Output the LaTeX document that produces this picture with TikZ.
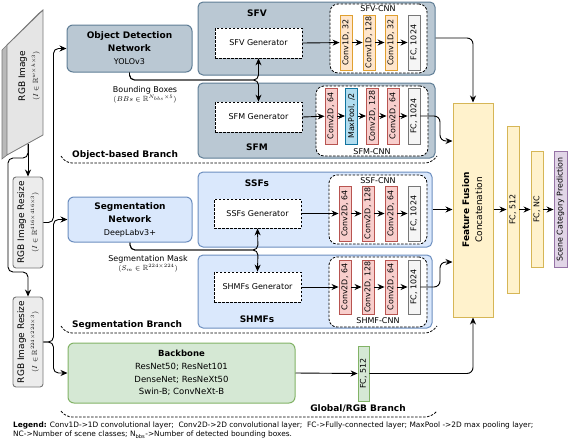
\documentclass[tikz,border=0pt]{standalone}
\usepackage{fontspec}
\usepackage{amssymb}
\usepackage{graphicx}
\setmainfont{DejaVu Sans}
\usetikzlibrary{arrows.meta,calc}
\definecolor{pgfill}{HTML}{BAC8D3}
\definecolor{pgdraw}{HTML}{5F7D95}
\definecolor{lbfill}{HTML}{DAE8FC}
\definecolor{lbdraw}{HTML}{6C8EBF}
\definecolor{grfill}{HTML}{D5E8D4}
\definecolor{grdraw}{HTML}{82B366}
\definecolor{yefill}{HTML}{FFF2CC}
\definecolor{yedraw}{HTML}{D6B656}
\definecolor{orfill}{HTML}{FFE6CC}
\definecolor{ordraw}{HTML}{E0A030}
\definecolor{rdfill}{HTML}{F8CECC}
\definecolor{rddraw}{HTML}{B85450}
\definecolor{blfill}{HTML}{B1DDF0}
\definecolor{bldraw}{HTML}{10739E}
\definecolor{gyfill}{HTML}{F5F5F5}
\definecolor{gydraw}{HTML}{777777}
\definecolor{pufill}{HTML}{E1D5E7}
\definecolor{pudraw}{HTML}{9673A6}
\newcommand{\vtxt}[1]{\rotatebox{90}{#1}}
\tikzset{
  conn/.style={draw=black, line width=0.9pt, -{Stealth[length=7pt,width=6pt]}},
  plainline/.style={draw=black, line width=0.9pt},
  panelgray/.style={draw=pgdraw, fill=pgfill, rounded corners=5pt, line width=1pt},
  panelblue/.style={draw=lbdraw, fill=lbfill, rounded corners=5pt, line width=1pt},
  genbox/.style={draw=black, fill=white, line width=0.8pt, dash pattern=on 2.5pt off 1.5pt, font=\fontsize{8}{10}\selectfont},
  cnnbox/.style={draw=black, fill=white, rounded corners=8pt, line width=0.8pt, dash pattern=on 2.5pt off 1.5pt},
  layer/.style={line width=0.9pt, inner sep=0pt, minimum width=12pt, font=\fontsize{7.9}{8}\selectfont},
  lor/.style={layer, draw=ordraw, fill=orfill},
  lrd/.style={layer, draw=rddraw, fill=rdfill},
  lbl/.style={layer, draw=bldraw, fill=blfill},
  lgy/.style={layer, draw=gydraw, fill=gyfill},
  lgr/.style={layer, draw=grdraw, fill=grfill},
  lye/.style={layer, draw=yedraw, fill=yefill},
  lpu/.style={layer, draw=pudraw, fill=pufill},
  head/.style={font=\fontsize{9}{11}\selectfont\bfseries},
  netbox/.style={rounded corners=6pt, line width=1pt, align=center, font=\fontsize{9}{13}\selectfont},
  resize/.style={draw=gydraw, fill=gray!15, rounded corners=3pt, line width=0.9pt, inner sep=0pt, font=\fontsize{9}{13}\selectfont},
  branchline/.style={draw=black, line width=0.8pt, dash pattern=on 2.5pt off 1.5pt, rounded corners=6pt},
  smalllbl/.style={font=\fontsize{8}{10}\selectfont, align=center},
}
\begin{document}
\begin{tikzpicture}[x=1pt,y=-1pt]
\useasboundingbox (0,0) rectangle (568,440);

% ---------- RGB image slab ----------
\fill[gray!55] (2,50) -- (7,45) -- (7,155) -- (2,159) -- cycle;
\fill[gray!30] (2,50) -- (38,14) -- (43,10) -- (7,45) -- cycle;
\draw[draw=gydraw, fill=gray!20, line width=0.8pt] (7,45) -- (43,10) -- (43,135) -- (7,155) -- cycle;
\draw[draw=gydraw, line width=0.6pt] (2,50) -- (2,159) -- (7,155);
\draw[draw=gydraw, line width=0.6pt] (2,50) -- (38,14) -- (43,10);
\node[font=\fontsize{9}{13}\selectfont, inner sep=0pt] (rgb) at (29,76) {\vtxt{\begin{tabular}{@{}c@{}}RGB Image\\ \fontsize{7.5}{8}\selectfont$(I\in\mathbb{R}^{w\times h\times 3})$\end{tabular}}};
\coordinate (slabbot) at (28,144);

% ---------- resize boxes ----------
\node[resize, minimum width=30pt, minimum height=91pt] (rs1) at (28,222.5) {\vtxt{\begin{tabular}{@{}c@{}}RGB Image Resize\\ \fontsize{7.5}{8}\selectfont$(I\in\mathbb{R}^{416\times416\times3})$\end{tabular}}};
\node[resize, minimum width=30pt, minimum height=90pt] (rs2) at (28,342) {\vtxt{\begin{tabular}{@{}c@{}}RGB Image Resize\\ \fontsize{7.5}{8}\selectfont$(I\in\mathbb{R}^{224\times224\times3})$\end{tabular}}};

% ---------- networks ----------
\node[netbox, draw=pgdraw, fill=pgfill, minimum width=125pt, minimum height=47pt] (odn) at (129.5,48.5) {\textbf{Object Detection}\\\textbf{Network}\\\fontsize{8}{10}\selectfont YOLOv3};
\node[netbox, draw=lbdraw, fill=lbfill, minimum width=124pt, minimum height=45pt] (seg) at (130,219.5) {\textbf{Segmentation}\\\textbf{Network}\\\fontsize{8}{10}\selectfont DeepLabv3+};
\node[netbox, draw=grdraw, fill=grfill, minimum width=227pt, minimum height=60pt, font=\fontsize{8.5}{12.7}\selectfont] (bb) at (181.5,373) {\textbf{Backbone}\\ResNet50; ResNet101\\DenseNet; ResNeXt50\\Swin-B; ConvNeXt-B};

% ---------- object branch panels ----------
\node[panelgray, minimum width=237pt, minimum height=73pt] (sfv) at (316.5,38.5) {};
\node[panelgray, minimum width=237pt, minimum height=75pt] (sfm) at (316.5,120.5) {};
\node[head] (sfvt) at (257,13) {SFV};
\node[head] (sfmt) at (257,147) {SFM};
\node[genbox, minimum width=87pt, minimum height=30pt] (sfvgen) at (258.5,43) {SFV Generator};
\node[genbox, minimum width=87pt, minimum height=30pt] (sfmgen) at (258.5,117) {SFM Generator};
\node[cnnbox, minimum width=97pt, minimum height=69pt] (sfvcnn) at (378.5,38.5) {};
\node[cnnbox, minimum width=112pt, minimum height=70pt] (sfmcnn) at (372,121) {};
\node[font=\fontsize{8}{10}\selectfont] (sfvcnnt) at (378,9) {SFV-CNN};
\node[font=\fontsize{8}{10}\selectfont] (sfmcnnt) at (372,151.5) {SFM-CNN};

\node[lor, minimum height=55pt] (v1) at (346,42.5) {\vtxt{Conv1D, 32}};
\node[lor, minimum height=55pt] (v2) at (369,42.5) {\vtxt{Conv1D, 128}};
\node[lor, minimum height=55pt] (v3) at (391,42.5) {\vtxt{Conv1D, 32}};
\node[lgy, minimum height=55pt] (v4) at (414,42.5) {\vtxt{FC, 1024}};

\node[lrd, minimum height=56pt] (m1) at (331,116) {\vtxt{Conv2D, 64}};
\node[lbl, minimum height=56pt] (m2) at (351.5,116) {\vtxt{MaxPool, /2}};
\node[lrd, minimum height=56pt] (m3) at (372.5,116) {\vtxt{Conv2D, 128}};
\node[lrd, minimum height=56pt] (m4) at (393,116) {\vtxt{Conv2D, 64}};
\node[lgy, minimum height=56pt] (m5) at (414,116) {\vtxt{FC, 1024}};

% ---------- segmentation branch panels ----------
\node[panelblue, minimum width=234pt, minimum height=75pt] (ssf) at (315,209.5) {};
\node[panelblue, minimum width=234pt, minimum height=73pt] (shmf) at (315,291.5) {};
\node[head] (ssft) at (257,183) {SSFs};
\node[head] (shmft) at (257,319) {SHMFs};
\node[genbox, minimum width=87pt, minimum height=29pt] (ssfgen) at (257.5,213.5) {SSFs Generator};
\node[genbox, minimum width=87pt, minimum height=30pt] (shmfgen) at (257.5,287) {SHMFs Generator};
\node[cnnbox, minimum width=98pt, minimum height=69pt] (ssfcnn) at (378,209.5) {};
\node[cnnbox, minimum width=98pt, minimum height=70pt] (shmfcnn) at (378,292) {};
\node[font=\fontsize{8}{10}\selectfont] (ssfcnnt) at (378,181) {SSF-CNN};
\node[font=\fontsize{8}{10}\selectfont] (shmfcnnt) at (378,320.5) {SHMF-CNN};

\node[lrd, minimum height=55pt] (s1) at (345,213.5) {\vtxt{Conv2D, 64}};
\node[lrd, minimum height=55pt] (s2) at (368,213.5) {\vtxt{Conv2D, 128}};
\node[lrd, minimum height=55pt] (s3) at (391,213.5) {\vtxt{Conv2D, 64}};
\node[lgy, minimum height=55pt] (s4) at (414,213.5) {\vtxt{FC, 1024}};

\node[lrd, minimum height=54pt] (h1) at (345,287) {\vtxt{Conv2D, 64}};
\node[lrd, minimum height=54pt] (h2) at (368,287) {\vtxt{Conv2D, 128}};
\node[lrd, minimum height=54pt] (h3) at (391,287) {\vtxt{Conv2D, 64}};
\node[lgy, minimum height=54pt] (h4) at (414,287) {\vtxt{FC, 1024}};

% ---------- global branch ----------
\node[lgr, minimum width=11pt, minimum height=55pt] (fcg) at (363.5,373.5) {\vtxt{FC, 512}};

% ---------- fusion and head ----------
\node[draw=yedraw, fill=yefill, line width=1pt, minimum width=40pt, minimum height=214pt, inner sep=0pt, font=\fontsize{9}{13}\selectfont] (fus) at (473,210) {\vtxt{\begin{tabular}{@{}c@{}}\bfseries Feature Fusion\\ Concatenation\end{tabular}}};
\node[lye, minimum height=167pt] (f1) at (513,209.5) {\vtxt{FC, 512}};
\node[lye, minimum height=116pt] (f2) at (537,209.5) {\vtxt{FC, NC}};
\node[lpu, minimum width=13pt, minimum height=116pt] (pred) at (560.5,209.5) {\vtxt{Scene Category Prediction}};

% ---------- labels ----------
\node[smalllbl] (bblbl) at (145,95) {Bounding Boxes\\[-1pt]\fontsize{7.5}{8}\selectfont$(BBs\in\mathbb{R}^{N_{bbs}\times 5})$};
\node[smalllbl] (smlbl) at (148,264) {Segmentation Mask\\[-1pt]\fontsize{7.5}{8}\selectfont$(S_m\in\mathbb{R}^{224\times 224})$};

% ---------- connectors: input side ----------
\draw[conn] (slabbot) -- (rs1.north);
\draw[conn, rounded corners=5pt] (slabbot) -- (28,158) -- (8,158) -- (8,272) -- (28,272) -- (rs2.north);
\draw[conn, rounded corners=5pt] (rs1.east) -- ++(10,0) |- (odn.west);
\draw[conn, rounded corners=5pt] (rs2.east) -- ++(10,0) |- (seg.west);
\draw[conn, rounded corners=5pt] (rs2.east) -- ++(10,0) |- (bb.west);

% ---------- object branch ----------
\coordinate (bbj) at (258.5,80);
\draw[conn, rounded corners=5pt] (odn.south) |- (bbj) -- (sfvgen.south);
\draw[conn, rounded corners=5pt] (odn.south) |- (bbj) -- (sfmgen.north);
\draw[conn] (sfvgen.east) -- (v1);
\draw[conn] (v1) -- (v2);
\draw[conn] (v2) -- (v3);
\draw[conn] (v3) -- (v4);
\draw[conn] (sfmgen.east) -- (m1);
\draw[conn] (m1) -- (m2);
\draw[conn] (m2) -- (m3);
\draw[conn] (m3) -- (m4);
\draw[conn] (m4) -- (m5);

% ---------- segmentation branch ----------
\coordinate (smj) at (258,250);
\draw[conn, rounded corners=5pt] (seg.south) |- (smj) -- (ssfgen.south);
\draw[conn, rounded corners=5pt] (seg.south) |- (smj) -- (shmfgen.north);
\draw[conn] (ssfgen.east) -- (s1);
\draw[conn] (s1) -- (s2);
\draw[conn] (s2) -- (s3);
\draw[conn] (s3) -- (s4);
\draw[conn] (shmfgen.east) -- (h1);
\draw[conn] (h1) -- (h2);
\draw[conn] (h2) -- (h3);
\draw[conn] (h3) -- (h4);

% ---------- global branch ----------
\draw[conn] (bb.east) -- (fcg.west);

% ---------- to fusion ----------
\draw[conn, rounded corners=6pt] ($(sfv.east)+(0,-0.5)$) -| (fus.north);
\draw[conn, rounded corners=6pt] (m5.east) -- (440,116) -- (440,141) -- (fus.west |- 0,141);
\draw[conn] (ssf.east) -- (fus.west |- ssf.east);
\draw[conn, rounded corners=6pt] (h4.east) -- (440,287) -- (440,262) -- (fus.west |- 0,262);
\draw[conn, rounded corners=6pt] (fcg.east) -| (fus.south);
\draw[conn] (fus.east |- f1.west) -- (f1.west);
\draw[conn] (f1.east) -- (f2.west);
\draw[conn] (f2.east) -- (pred.west);

% ---------- branch outlines ----------
\draw[branchline] (61,156) -- (66,163) -- (431,163) -- (437,156);
\node[head, anchor=west, inner sep=0pt] (objbr) at (72,155) {Object-based Branch};
\draw[branchline] (61,326) -- (66,333) -- (431,333) -- (437,326);
\node[head, anchor=west, inner sep=0pt] (segbr) at (72,325) {Segmentation Branch};
\draw[branchline] (61,411) -- (66,417) -- (431,417) -- (437,411);
\node[head, inner sep=0pt] (glbr) at (358,408) {Global/RGB Branch};

% ---------- legend ----------
\node[anchor=north west, align=left, inner sep=0pt, font=\fontsize{7.4}{9}\selectfont] (legend) at (13,422) {\textbf{Legend:} Conv1D->1D convolutional layer;\ \ Conv2D->2D convolutional layer;\ \ FC->Fully-connected layer; MaxPool ->2D max pooling layer;\\NC->Number of scene classes; N\textsubscript{bbs}->Number of detected bounding boxes.};
\end{tikzpicture}
\end{document}
